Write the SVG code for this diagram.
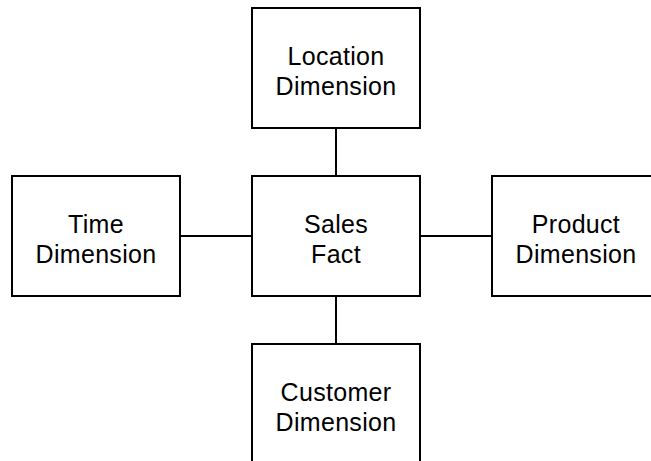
<svg xmlns="http://www.w3.org/2000/svg" width="651" height="461" viewBox="0 0 651 461">
  <style>
    .box { fill: #ffffff; stroke: #000000; stroke-width: 2; }
    .link { stroke: #000000; stroke-width: 2; fill: none; }
    .label { font-family: "Liberation Sans", Arial, sans-serif; font-size: 25px; letter-spacing: 0.3px; fill: #000000; text-anchor: middle; }
  </style>
  <rect width="651" height="461" fill="#ffffff"/>
  <g id="connectors">
    <line class="link" x1="336" y1="128" x2="336" y2="176"/>
    <line class="link" x1="336" y1="296" x2="336" y2="344"/>
    <line class="link" x1="180" y1="236" x2="252" y2="236"/>
    <line class="link" x1="420" y1="236" x2="492" y2="236"/>
  </g>
  <g id="location">
    <rect class="box" x="252" y="8" width="168" height="120"/>
    <text class="label" x="336" y="65">Location</text>
    <text class="label" x="336" y="95">Dimension</text>
  </g>
  <g id="time">
    <rect class="box" x="12" y="176" width="168" height="120"/>
    <text class="label" x="96" y="233">Time</text>
    <text class="label" x="96" y="263">Dimension</text>
  </g>
  <g id="sales">
    <rect class="box" x="252" y="176" width="168" height="120"/>
    <text class="label" x="336" y="233">Sales</text>
    <text class="label" x="336" y="263">Fact</text>
  </g>
  <g id="product">
    <rect class="box" x="492" y="176" width="168" height="120"/>
    <text class="label" x="576" y="233">Product</text>
    <text class="label" x="576" y="263">Dimension</text>
  </g>
  <g id="customer">
    <rect class="box" x="252" y="344" width="168" height="120"/>
    <text class="label" x="336" y="401">Customer</text>
    <text class="label" x="336" y="431">Dimension</text>
  </g>
</svg>
